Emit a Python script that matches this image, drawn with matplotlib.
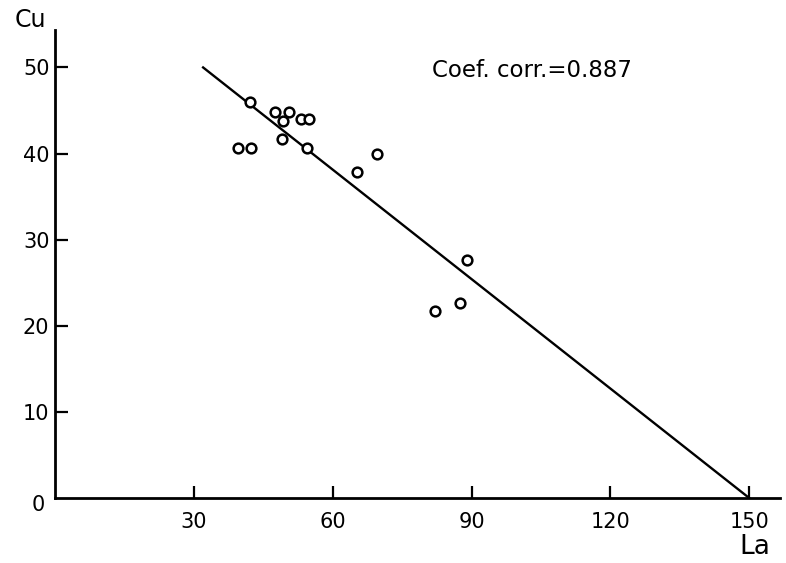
import matplotlib
matplotlib.use("Agg")
import matplotlib.pyplot as plt

# data
la = [42.1, 47.5, 50.6, 49.2, 53.1, 54.9, 49.1, 39.6, 42.3, 54.5, 69.5, 65.3, 89.1, 87.6, 82.2]
cu = [46.0, 44.8, 44.8, 43.8, 44.0, 44.0, 41.7, 40.7, 40.7, 40.7, 39.9, 37.8, 27.6, 22.7, 21.7]

fit_x = [32, 150]
fit_y = [50, 0]

x_ticks = [30, 60, 90, 120, 150]
y_ticks = [10, 20, 30, 40, 50]

plt.rcParams["font.family"] = ["DejaVu Sans"]

fig = plt.figure(figsize=(7.86, 5.63), dpi=100)
ax = fig.add_axes([0.070, 0.1155, 0.922, 0.832])

ax.plot(fit_x, fit_y, color="black", linewidth=1.7)
ax.plot(la, cu, linestyle="none", marker="o", markersize=7,
        markerfacecolor="white", markeredgecolor="black", markeredgewidth=1.8)

ax.set_xlim(0, 156.6)
ax.set_ylim(0, 54.4)
for s in ["top", "right"]:
    ax.spines[s].set_visible(False)
for s in ["left", "bottom"]:
    ax.spines[s].set_linewidth(2)

ax.set_xticks(x_ticks)
ax.set_yticks(y_ticks)
ax.tick_params(direction="in", length=9, width=1.6, labelsize=15)
ax.tick_params(axis="y", pad=4)
ax.tick_params(axis="x", pad=10)

fig.text(38 / 786, 1 - 505 / 563, "0", fontsize=15, ha="center", va="center")
fig.text(30 / 786, 1 - 20 / 563, "Cu", fontsize=17, ha="center", va="center")
fig.text(755 / 786, 1 - 547 / 563, "La", fontsize=19, ha="center", va="center")
ax.text(0.52, 0.912, "Coef. corr.=0.887", transform=ax.transAxes, fontsize=16.5, ha="left", va="center")

fig.savefig("out.png", dpi=100, facecolor="white")
